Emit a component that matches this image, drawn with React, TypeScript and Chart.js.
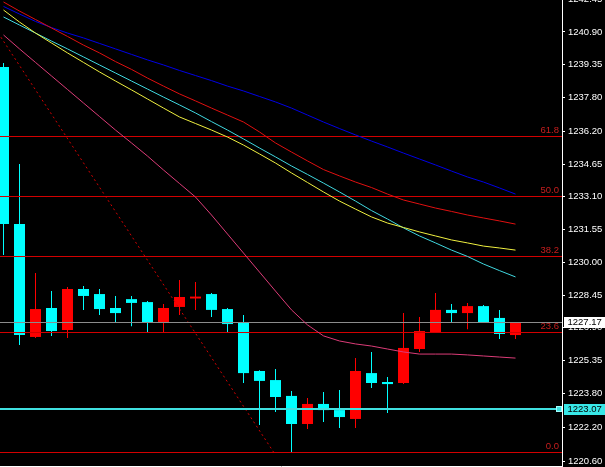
import { useEffect, useRef } from "react";
import { Chart, registerables } from "chart.js";

Chart.register(...registerables);

// ---------- data ----------
const candleIndex = [0, 1, 2, 3, 4, 5, 6, 7, 8, 9, 10, 11, 12, 13, 14, 15, 16, 17, 18, 19, 20, 21, 22, 23, 24, 25, 26, 27, 28, 29, 30, 31, 32];
const opens = [1239.24, 1231.81, 1226.47, 1227.84, 1226.8, 1228.74, 1228.5, 1227.84, 1228.26, 1228.12, 1227.13, 1227.89, 1228.29, 1228.5, 1227.79, 1227.13, 1224.86, 1224.43, 1223.68, 1222.35, 1223.3, 1223.01, 1222.59, 1224.76, 1224.34, 1224.29, 1225.9, 1226.7, 1227.75, 1227.6, 1227.93, 1227.37, 1226.56];
const highs = [1239.43, 1234.65, 1229.5, 1228.64, 1228.83, 1228.88, 1228.74, 1228.41, 1228.41, 1228.17, 1228.03, 1229.16, 1229.07, 1228.55, 1227.84, 1227.51, 1224.9, 1224.95, 1223.91, 1223.58, 1223.86, 1223.96, 1225.47, 1225.76, 1224.57, 1227.6, 1227.41, 1228.55, 1228.03, 1228.08, 1227.98, 1227.75, 1227.17];
const lows = [1230.35, 1226.09, 1226.42, 1226.51, 1226.42, 1227.75, 1227.51, 1227.13, 1226.98, 1226.7, 1226.66, 1227.51, 1227.75, 1227.41, 1226.66, 1224.29, 1222.3, 1222.92, 1221.0, 1222.11, 1222.45, 1222.16, 1222.16, 1224.05, 1222.87, 1224.24, 1225.76, 1226.66, 1227.17, 1226.84, 1227.13, 1226.37, 1226.37];
const closes = [1231.81, 1226.56, 1227.79, 1226.75, 1228.74, 1228.41, 1227.79, 1227.6, 1228.08, 1227.13, 1227.84, 1228.36, 1228.38, 1227.75, 1227.08, 1224.76, 1224.39, 1223.63, 1222.35, 1223.3, 1223.01, 1222.68, 1224.86, 1224.29, 1224.24, 1225.95, 1226.75, 1227.75, 1227.6, 1227.93, 1227.13, 1226.61, 1227.17];

const maBlue = [1242.11, 1241.75, 1241.4, 1241.11, 1240.85, 1240.62, 1240.36, 1240.1, 1239.84, 1239.58, 1239.34, 1239.08, 1238.84, 1238.6, 1238.34, 1238.11, 1237.85, 1237.59, 1237.3, 1236.97, 1236.64, 1236.33, 1236.03, 1235.74, 1235.46, 1235.17, 1234.89, 1234.61, 1234.32, 1234.04, 1233.8, 1233.52, 1233.23];
const maRed = [1242.32, 1241.89, 1241.49, 1241.09, 1240.69, 1240.28, 1239.91, 1239.5, 1239.13, 1238.72, 1238.34, 1237.97, 1237.64, 1237.3, 1236.97, 1236.64, 1236.17, 1235.65, 1235.22, 1234.8, 1234.39, 1234.09, 1233.8, 1233.54, 1233.23, 1232.95, 1232.76, 1232.57, 1232.41, 1232.24, 1232.1, 1231.96, 1231.81];
const maCyan = [1241.61, 1241.23, 1240.85, 1240.47, 1240.1, 1239.72, 1239.34, 1238.96, 1238.58, 1238.2, 1237.82, 1237.45, 1237.07, 1236.66, 1236.26, 1235.84, 1235.41, 1234.99, 1234.56, 1234.16, 1233.75, 1233.33, 1232.9, 1232.45, 1232.05, 1231.63, 1231.25, 1230.92, 1230.58, 1230.28, 1229.92, 1229.61, 1229.31];
const maYellow = [1241.94, 1241.37, 1240.85, 1240.38, 1239.91, 1239.46, 1239.01, 1238.58, 1238.16, 1237.73, 1237.3, 1236.88, 1236.57, 1236.26, 1235.93, 1235.55, 1235.13, 1234.7, 1234.23, 1233.78, 1233.33, 1232.9, 1232.52, 1232.15, 1231.86, 1231.65, 1231.44, 1231.25, 1231.06, 1230.92, 1230.77, 1230.68, 1230.58];
const maPink = [1240.76, 1240.1, 1239.46, 1238.82, 1238.18, 1237.54, 1236.9, 1236.26, 1235.65, 1235.03, 1234.37, 1233.73, 1233.09, 1232.24, 1231.34, 1230.44, 1229.54, 1228.64, 1227.75, 1227.04, 1226.52, 1226.28, 1226.14, 1226.04, 1225.9, 1225.76, 1225.66, 1225.66, 1225.66, 1225.62, 1225.57, 1225.52, 1225.47];

const fibLow = 1221.0;
const fibHigh = 1245.2;
const fibRatios = [0, 0.236, 0.382, 0.5, 0.618, 1];
const fibLabels = ["0.0", "23.6", "38.2", "50.0", "61.8", "100.0"];
const fibTrendX = [-4.11, 16.9];
const fibTrendY = [fibHigh, fibLow];

const bidPrice = 1227.17;
const bidLabel = "1227.17";
const hLinePrice = 1223.07;
const hLineLabel = "1223.07";

const yTickValues = [1220.6, 1222.2, 1223.8, 1225.35, 1226.9, 1228.45, 1230.0, 1231.55, 1233.1, 1234.65, 1236.2, 1237.8, 1239.35, 1240.9, 1242.45];
const yTickLabels = ["1220.60", "1222.20", "1223.80", "1225.35", "1226.90", "1228.45", "1230.00", "1231.55", "1233.10", "1234.65", "1236.20", "1237.80", "1239.35", "1240.90", "1242.45"];
const xTickPositions = [1, 5, 9, 13, 17, 21, 25, 29, 33];

// ---------- view / style ----------
const X_MIN = -0.21875;
const X_MAX = 34.90625;
const Y_MIN = 1220.364;
const Y_MAX = 1242.414;

const CYAN = "#00ffff";
const RED = "#ff0000";
const FIB_COLOR = "#d20000";
const FIB_TEXT = "#c81e1e";
const FONT = "'Liberation Sans', Arial, sans-serif";
const FONT_SIZE = 9.5;

const hline = (y: number) => [
  { x: X_MIN, y },
  { x: X_MAX, y },
];

// row (pixel) on which a 1px level line is drawn
const levelRow = (y: number) => 2 * Math.round((y - 0.5) / 2);

// keeps horizontal level lines crisp on the pixel grid
const snapPlugin = {
  id: "snapLines",
  beforeDatasetDraw(chart: any, args: any) {
    const ds = chart.data.datasets[args.index];
    if (!ds.snap) return;
    const pt = args.meta.data[0];
    if (!pt) return;
    const y = pt.y;
    const w = ds.borderWidth || 1;
    let target: number;
    if (ds.snap === "even") target = levelRow(y) + 0.5;
    else target = w % 2 === 1 ? Math.floor(y) + 0.5 : Math.round(y);
    chart.ctx.save();
    chart.ctx.translate(0, target - y);
  },
  afterDatasetDraw(chart: any, args: any) {
    const ds = chart.data.datasets[args.index];
    if (!ds.snap || !args.meta.data[0]) return;
    chart.ctx.restore();
  },
};

const overlayPlugin = {
  id: "mtOverlay",
  afterDatasetsDraw(chart: any) {
    const { ctx, chartArea, scales } = chart;
    const ys = scales.y;
    ctx.save();
    ctx.beginPath();
    ctx.rect(chartArea.left, chartArea.top, chartArea.right - chartArea.left, chartArea.bottom - chartArea.top);
    ctx.clip();
    ctx.font = `${FONT_SIZE}px ${FONT}`;
    ctx.fillStyle = FIB_TEXT;
    ctx.textAlign = "right";
    ctx.textBaseline = "bottom";
    fibRatios.forEach((r, i) => {
      const py = levelRow(ys.getPixelForValue(fibLow + (fibHigh - fibLow) * r));
      ctx.fillText(fibLabels[i], chartArea.right - 3, py - 1);
    });
    // anchor square of the horizontal line
    const hy = Math.round(ys.getPixelForValue(hLinePrice));
    ctx.fillStyle = "#40e0e0";
    ctx.fillRect(chartArea.right - 6, hy - 3, 6, 6);
    ctx.strokeStyle = "#a0ffff";
    ctx.lineWidth = 1;
    ctx.strokeRect(chartArea.right - 5.5, hy - 2.5, 5, 5);
    ctx.restore();
  },
  afterDraw(chart: any) {
    const { ctx, chartArea, scales, width } = chart;
    const ys = scales.y;
    ctx.save();
    ctx.font = `${FONT_SIZE}px ${FONT}`;
    ctx.textAlign = "left";
    ctx.textBaseline = "middle";
    const box = (price: number, label: string, bg: string) => {
      const py = Math.round(ys.getPixelForValue(price));
      ctx.fillStyle = bg;
      ctx.fillRect(chartArea.right + 2, py - 5, width - chartArea.right - 2, 11);
      ctx.fillStyle = "#000000";
      ctx.fillText(label, chartArea.right + 5.5, py + 0.5);
    };
    box(bidPrice, bidLabel, "#ffffff");
    box(hLinePrice, hLineLabel, "#38e8e8");
    ctx.restore();
  },
};

export default function App() {
  const ref = useRef<HTMLCanvasElement | null>(null);

  useEffect(() => {
    if (!ref.current) return;
    const bodyColors = candleIndex.map((_, i) => (closes[i] >= opens[i] ? RED : CYAN));

    const lineDs = (label: string, data: any[], color: string, width: number, order: number, dash: number[] = [], snap: any = false) => ({
      type: "line" as const,
      label,
      data,
      borderColor: color,
      borderWidth: width,
      borderDash: dash,
      pointRadius: 0,
      tension: 0,
      fill: false,
      order,
      snap,
    });

    const maData = (arr: number[]) => candleIndex.map((x, i) => ({ x, y: arr[i] }));

    const chart = new Chart(ref.current, {
      type: "bar",
      data: {
        datasets: [
          {
            type: "bar",
            label: "wicks",
            data: candleIndex.map((x, i) => ({ x, y: [lows[i], highs[i]] })) as any,
            backgroundColor: bodyColors,
            barThickness: 1,
            grouped: false,
            borderWidth: 0,
            inflateAmount: 0,
            order: 30,
          } as any,
          {
            type: "bar",
            label: "bodies",
            data: candleIndex.map((x, i) => ({ x, y: [opens[i], closes[i]] })) as any,
            backgroundColor: bodyColors,
            barThickness: 11,
            grouped: false,
            borderWidth: 0,
            inflateAmount: 0,
            order: 29,
          } as any,
          ...fibRatios.map((r, i) => lineDs("fib " + fibLabels[i], hline(fibLow + (fibHigh - fibLow) * r), FIB_COLOR, 1, 20, [], "even")),
          lineDs("fib trend", fibTrendX.map((x, i) => ({ x, y: fibTrendY[i] })), FIB_COLOR, 1, 19, [2, 3]),
          lineDs("bid", hline(bidPrice), "#8c8c8c", 1, 18, [], true),
          lineDs("level", hline(hLinePrice), "#40e0e0", 2, 17, [], true),
          lineDs("ma blue", maData(maBlue), "#0000e6", 1, 10),
          lineDs("ma red", maData(maRed), "#e01010", 1, 9),
          lineDs("ma cyan", maData(maCyan), "#40d8e0", 1, 8),
          lineDs("ma yellow", maData(maYellow), "#f0f040", 1, 7),
          lineDs("ma pink", maData(maPink), "#dc3c78", 1, 6),
        ] as any,
      },
      options: {
        animation: false,
        responsive: true,
        maintainAspectRatio: false,
        layout: { padding: 0 },
        plugins: { legend: { display: false }, tooltip: { enabled: false } },
        events: [],
        scales: {
          x: {
            type: "linear",
            min: X_MIN,
            max: X_MAX,
            offset: false,
            grid: { display: true, drawOnChartArea: false, drawTicks: true, tickLength: 4, color: "#ffffff", offset: false },
            border: { display: true, color: "#ffffff", width: 1 },
            ticks: { display: false, autoSkip: false },
            afterBuildTicks: (s: any) => {
              s.ticks = xTickPositions.map((v) => ({ value: v }));
            },
            afterFit: (s: any) => {
              s.height = 1;
              s.paddingLeft = 0;
              s.paddingRight = 0;
            },
          },
          y: {
            type: "linear",
            position: "right",
            min: Y_MIN,
            max: Y_MAX,
            grid: { display: true, drawOnChartArea: false, drawTicks: true, tickLength: 3, color: "#ffffff" },
            border: { display: true, color: "#ffffff", width: 1 },
            ticks: {
              color: "#ffffff",
              autoSkip: false,
              padding: 3,
              font: { family: FONT, size: FONT_SIZE },
              callback: (_v: any, i: number) => yTickLabels[i],
            },
            afterBuildTicks: (s: any) => {
              s.ticks = yTickValues.map((v) => ({ value: v }));
            },
            afterFit: (s: any) => {
              s.width = 43;
              s.paddingTop = 0;
              s.paddingBottom = 0;
            },
          },
        },
      } as any,
      plugins: [snapPlugin, overlayPlugin],
    });
    return () => chart.destroy();
  }, []);

  return (
    <div style={{ position: "fixed", left: 0, top: 0, width: 605, height: 467, background: "#000000" }}>
      <canvas ref={ref} />
    </div>
  );
}
